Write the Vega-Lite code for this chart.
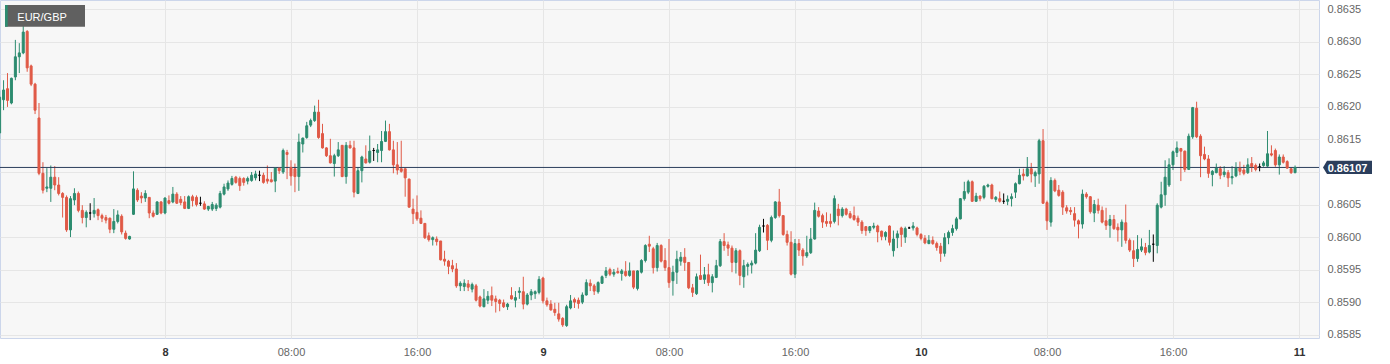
{
"$schema": "https://vega.github.io/schema/vega-lite/v6.json",
"width": 1319,
"height": 338,
"autosize": {"type": "none"},
"padding": {"left": 0, "top": 0, "right": 71, "bottom": 26},
"background": "#ffffff",
"config": {
  "view": {"fill": "#f7f7f7", "stroke": "#ccd6eb", "strokeWidth": 1},
  "font": "Liberation Sans",
  "axis": {"gridColor": "#e6e6e6", "gridWidth": 1, "domain": false, "ticks": false, "tickSize": 0, "labelFont": "Liberation Sans", "labelFontSize": 11, "title": null}
},
"data": {"values": [
{"t":-10.5,"o":0.8616,"h":0.86225,"l":0.8615,"c":0.86215},
{"t":-10.25,"o":0.86211,"h":0.86241,"l":0.86195,"c":0.86226},
{"t":-10,"o":0.86228,"h":0.86252,"l":0.862,"c":0.8621},
{"t":-9.75,"o":0.86206,"h":0.86245,"l":0.86204,"c":0.86244},
{"t":-9.5,"o":0.86246,"h":0.86303,"l":0.86241,"c":0.86277},
{"t":-9.25,"o":0.86277,"h":0.86298,"l":0.86252,"c":0.86283},
{"t":-9,"o":0.86283,"h":0.86328,"l":0.86281,"c":0.86315},
{"t":-8.75,"o":0.86316,"h":0.86318,"l":0.86254,"c":0.8626},
{"t":-8.5,"o":0.86263,"h":0.86265,"l":0.86232,"c":0.86235},
{"t":-8.25,"o":0.86235,"h":0.86237,"l":0.86189,"c":0.86195},
{"t":-8,"o":0.86183,"h":0.86206,"l":0.86095,"c":0.86098},
{"t":-7.75,"o":0.86098,"h":0.86115,"l":0.86067,"c":0.86072},
{"t":-7.5,"o":0.86075,"h":0.86106,"l":0.86069,"c":0.86077},
{"t":-7.25,"o":0.86075,"h":0.8611,"l":0.86054,"c":0.86092},
{"t":-7,"o":0.86092,"h":0.86109,"l":0.86072,"c":0.8608},
{"t":-6.75,"o":0.8608,"h":0.86092,"l":0.86064,"c":0.86067},
{"t":-6.5,"o":0.86067,"h":0.86069,"l":0.8603,"c":0.86061},
{"t":-6.25,"o":0.86061,"h":0.86064,"l":0.86008,"c":0.86011},
{"t":-6,"o":0.86011,"h":0.86063,"l":0.86,"c":0.86059},
{"t":-5.75,"o":0.86057,"h":0.86075,"l":0.86049,"c":0.86067},
{"t":-5.5,"o":0.86067,"h":0.8607,"l":0.86038,"c":0.86041},
{"t":-5.25,"o":0.86041,"h":0.86049,"l":0.86021,"c":0.8603},
{"t":-5,"o":0.8603,"h":0.86041,"l":0.86015,"c":0.86038},
{"t":-4.75,"o":0.86037,"h":0.86052,"l":0.86026,"c":0.86037},
{"t":-4.5,"o":0.86036,"h":0.8606,"l":0.8603,"c":0.86041},
{"t":-4.25,"o":0.86042,"h":0.86044,"l":0.86026,"c":0.86033},
{"t":-4,"o":0.86033,"h":0.86036,"l":0.86023,"c":0.86029},
{"t":-3.75,"o":0.8603,"h":0.86034,"l":0.86021,"c":0.86026},
{"t":-3.5,"o":0.86029,"h":0.8603,"l":0.86006,"c":0.86012},
{"t":-3.25,"o":0.86012,"h":0.86043,"l":0.86006,"c":0.86024},
{"t":-3,"o":0.86024,"h":0.86041,"l":0.86021,"c":0.86034},
{"t":-2.75,"o":0.86032,"h":0.86035,"l":0.86004,"c":0.86008},
{"t":-2.5,"o":0.86006,"h":0.8601,"l":0.85996,"c":0.85998},
{"t":-2.25,"o":0.85997,"h":0.86002,"l":0.85996,"c":0.86001},
{"t":-2,"o":0.86035,"h":0.86101,"l":0.86034,"c":0.86074},
{"t":-1.75,"o":0.86072,"h":0.86075,"l":0.86054,"c":0.86057},
{"t":-1.5,"o":0.86063,"h":0.86069,"l":0.86052,"c":0.8606},
{"t":-1.25,"o":0.8606,"h":0.86072,"l":0.86054,"c":0.86067},
{"t":-1,"o":0.86061,"h":0.86061,"l":0.86029,"c":0.86037},
{"t":-0.75,"o":0.86037,"h":0.86041,"l":0.8603,"c":0.86032},
{"t":-0.5,"o":0.86035,"h":0.86055,"l":0.86034,"c":0.86054},
{"t":-0.25,"o":0.86054,"h":0.86055,"l":0.86035,"c":0.86037},
{"t":0,"o":0.86037,"h":0.86061,"l":0.86035,"c":0.8606},
{"t":0.25,"o":0.86056,"h":0.86064,"l":0.8605,"c":0.86052},
{"t":0.5,"o":0.86054,"h":0.86077,"l":0.86052,"c":0.86066},
{"t":0.75,"o":0.86066,"h":0.86069,"l":0.86051,"c":0.86052},
{"t":1,"o":0.86058,"h":0.86063,"l":0.86049,"c":0.86053},
{"t":1.25,"o":0.86054,"h":0.86063,"l":0.86043,"c":0.86044},
{"t":1.5,"o":0.86044,"h":0.86064,"l":0.86043,"c":0.86062},
{"t":1.75,"o":0.86062,"h":0.86065,"l":0.86047,"c":0.86056},
{"t":2,"o":0.86061,"h":0.86064,"l":0.86047,"c":0.8605},
{"t":2.25,"o":0.86052,"h":0.86062,"l":0.86048,"c":0.86052},
{"t":2.5,"o":0.86051,"h":0.86055,"l":0.86042,"c":0.86043},
{"t":2.75,"o":0.86043,"h":0.86048,"l":0.8604,"c":0.86047},
{"t":3,"o":0.86043,"h":0.86054,"l":0.8604,"c":0.8605},
{"t":3.25,"o":0.86044,"h":0.86052,"l":0.8604,"c":0.86049},
{"t":3.5,"o":0.86046,"h":0.86071,"l":0.86044,"c":0.86067},
{"t":3.75,"o":0.86066,"h":0.86082,"l":0.86064,"c":0.86077},
{"t":4,"o":0.86074,"h":0.86087,"l":0.86071,"c":0.86083},
{"t":4.25,"o":0.86081,"h":0.86094,"l":0.86079,"c":0.8609},
{"t":4.5,"o":0.86092,"h":0.86094,"l":0.86082,"c":0.86084},
{"t":4.75,"o":0.8609,"h":0.86093,"l":0.86071,"c":0.86079},
{"t":5,"o":0.8609,"h":0.86092,"l":0.86079,"c":0.86084},
{"t":5.25,"o":0.86086,"h":0.86093,"l":0.86081,"c":0.8609},
{"t":5.5,"o":0.86087,"h":0.861,"l":0.86085,"c":0.86095},
{"t":5.75,"o":0.86091,"h":0.86102,"l":0.86087,"c":0.86097},
{"t":6,"o":0.86095,"h":0.86102,"l":0.86086,"c":0.86095},
{"t":6.25,"o":0.86095,"h":0.86099,"l":0.86082,"c":0.86084},
{"t":6.5,"o":0.86089,"h":0.8611,"l":0.86082,"c":0.86086},
{"t":6.75,"o":0.86088,"h":0.861,"l":0.86084,"c":0.86085},
{"t":7,"o":0.86086,"h":0.86107,"l":0.86069,"c":0.86106},
{"t":7.25,"o":0.86106,"h":0.86106,"l":0.86097,"c":0.86102},
{"t":7.5,"o":0.861,"h":0.86136,"l":0.86097,"c":0.86133},
{"t":7.75,"o":0.8613,"h":0.86134,"l":0.86089,"c":0.86127},
{"t":8,"o":0.86107,"h":0.86118,"l":0.86079,"c":0.86094},
{"t":8.25,"o":0.86105,"h":0.86113,"l":0.86069,"c":0.86093},
{"t":8.5,"o":0.86093,"h":0.86159,"l":0.86071,"c":0.86146},
{"t":8.75,"o":0.86143,"h":0.86153,"l":0.8613,"c":0.86152},
{"t":9,"o":0.86153,"h":0.86177,"l":0.86151,"c":0.86171},
{"t":9.25,"o":0.86172,"h":0.86182,"l":0.86169,"c":0.86179},
{"t":9.5,"o":0.86179,"h":0.86202,"l":0.86177,"c":0.86192},
{"t":9.75,"o":0.86192,"h":0.86211,"l":0.86151,"c":0.86153},
{"t":10,"o":0.86159,"h":0.86174,"l":0.86136,"c":0.86137},
{"t":10.25,"o":0.86137,"h":0.86138,"l":0.86123,"c":0.86125},
{"t":10.5,"o":0.86125,"h":0.86151,"l":0.86113,"c":0.86114},
{"t":10.75,"o":0.86113,"h":0.86128,"l":0.86093,"c":0.86125},
{"t":11,"o":0.86125,"h":0.86146,"l":0.86123,"c":0.86134},
{"t":11.25,"o":0.86141,"h":0.86141,"l":0.86092,"c":0.86093},
{"t":11.5,"o":0.86093,"h":0.86146,"l":0.86082,"c":0.86141},
{"t":11.75,"o":0.86141,"h":0.86148,"l":0.86136,"c":0.86137},
{"t":12,"o":0.86137,"h":0.86148,"l":0.86061,"c":0.86069},
{"t":12.25,"o":0.86067,"h":0.86107,"l":0.86066,"c":0.86102},
{"t":12.5,"o":0.86102,"h":0.86125,"l":0.86084,"c":0.86123},
{"t":12.75,"o":0.8612,"h":0.86141,"l":0.86113,"c":0.86114},
{"t":13,"o":0.86115,"h":0.86156,"l":0.86113,"c":0.86132},
{"t":13.25,"o":0.86133,"h":0.86137,"l":0.86117,"c":0.86133},
{"t":13.5,"o":0.8613,"h":0.86143,"l":0.86115,"c":0.86134},
{"t":13.75,"o":0.86133,"h":0.86163,"l":0.86115,"c":0.86147},
{"t":14,"o":0.86147,"h":0.86179,"l":0.86146,"c":0.86162},
{"t":14.25,"o":0.86162,"h":0.86174,"l":0.86133,"c":0.86134},
{"t":14.5,"o":0.86134,"h":0.86148,"l":0.86098,"c":0.86111},
{"t":14.75,"o":0.86111,"h":0.86146,"l":0.86096,"c":0.86103},
{"t":15,"o":0.86105,"h":0.86148,"l":0.86099,"c":0.86101},
{"t":15.25,"o":0.86105,"h":0.86105,"l":0.86062,"c":0.86091},
{"t":15.5,"o":0.86089,"h":0.8609,"l":0.86045,"c":0.86046},
{"t":15.75,"o":0.86043,"h":0.86059,"l":0.8602,"c":0.86036},
{"t":16,"o":0.86038,"h":0.86064,"l":0.86025,"c":0.86028},
{"t":16.25,"o":0.86029,"h":0.86041,"l":0.8602,"c":0.86021},
{"t":16.5,"o":0.86021,"h":0.86021,"l":0.85997,"c":0.85999},
{"t":16.75,"o":0.86002,"h":0.86007,"l":0.85993,"c":0.85996},
{"t":17,"o":0.85996,"h":0.86001,"l":0.85987,"c":0.85999},
{"t":17.25,"o":0.85997,"h":0.86001,"l":0.85987,"c":0.85993},
{"t":17.5,"o":0.85994,"h":0.85994,"l":0.85964,"c":0.85965},
{"t":17.75,"o":0.85966,"h":0.85979,"l":0.85956,"c":0.85963},
{"t":18,"o":0.85963,"h":0.85965,"l":0.85943,"c":0.85955},
{"t":18.25,"o":0.85956,"h":0.85965,"l":0.85946,"c":0.85951},
{"t":18.5,"o":0.85951,"h":0.8596,"l":0.85922,"c":0.85925},
{"t":18.75,"o":0.85925,"h":0.85932,"l":0.85917,"c":0.85929},
{"t":19,"o":0.85924,"h":0.85935,"l":0.85917,"c":0.85929},
{"t":19.25,"o":0.85928,"h":0.85934,"l":0.85917,"c":0.85923},
{"t":19.5,"o":0.8592,"h":0.8593,"l":0.85915,"c":0.85927},
{"t":19.75,"o":0.85925,"h":0.85928,"l":0.85901,"c":0.85903},
{"t":20,"o":0.85908,"h":0.8591,"l":0.85892,"c":0.85894},
{"t":20.25,"o":0.85893,"h":0.8592,"l":0.85892,"c":0.85905},
{"t":20.5,"o":0.85903,"h":0.85917,"l":0.85897,"c":0.85909},
{"t":20.75,"o":0.8591,"h":0.85924,"l":0.85894,"c":0.85903},
{"t":21,"o":0.85905,"h":0.8591,"l":0.85884,"c":0.85901},
{"t":21.25,"o":0.85903,"h":0.85905,"l":0.85886,"c":0.85898},
{"t":21.5,"o":0.85899,"h":0.85904,"l":0.85891,"c":0.85893},
{"t":21.75,"o":0.85893,"h":0.85899,"l":0.85888,"c":0.85897},
{"t":22,"o":0.8591,"h":0.85923,"l":0.85904,"c":0.85905},
{"t":22.25,"o":0.85903,"h":0.85917,"l":0.85892,"c":0.85907},
{"t":22.5,"o":0.85915,"h":0.85923,"l":0.85905,"c":0.85917},
{"t":22.75,"o":0.85916,"h":0.85939,"l":0.85889,"c":0.85897},
{"t":23,"o":0.85897,"h":0.85914,"l":0.85895,"c":0.85911},
{"t":23.25,"o":0.85911,"h":0.8592,"l":0.85903,"c":0.85916},
{"t":23.5,"o":0.85913,"h":0.85918,"l":0.85905,"c":0.85916},
{"t":23.75,"o":0.85915,"h":0.8594,"l":0.85912,"c":0.85935},
{"t":24,"o":0.85937,"h":0.85939,"l":0.85898,"c":0.85902},
{"t":24.25,"o":0.85902,"h":0.85907,"l":0.85893,"c":0.85896},
{"t":24.5,"o":0.85897,"h":0.85903,"l":0.85887,"c":0.85888},
{"t":24.75,"o":0.85889,"h":0.85899,"l":0.85879,"c":0.85884},
{"t":25,"o":0.85882,"h":0.85899,"l":0.8587,"c":0.85874},
{"t":25.25,"o":0.85875,"h":0.85877,"l":0.85862,"c":0.85865},
{"t":25.5,"o":0.85864,"h":0.85896,"l":0.85862,"c":0.85893},
{"t":25.75,"o":0.85891,"h":0.85911,"l":0.85889,"c":0.85902},
{"t":26,"o":0.85904,"h":0.85907,"l":0.85891,"c":0.859},
{"t":26.25,"o":0.85903,"h":0.85907,"l":0.8589,"c":0.85898},
{"t":26.5,"o":0.859,"h":0.85915,"l":0.85897,"c":0.85911},
{"t":26.75,"o":0.85911,"h":0.85935,"l":0.8591,"c":0.8593},
{"t":27,"o":0.85929,"h":0.85935,"l":0.85917,"c":0.85925},
{"t":27.25,"o":0.85925,"h":0.85928,"l":0.85911,"c":0.85917},
{"t":27.5,"o":0.85916,"h":0.85932,"l":0.85913,"c":0.8593},
{"t":27.75,"o":0.85929,"h":0.85941,"l":0.85928,"c":0.85939},
{"t":28,"o":0.85941,"h":0.85954,"l":0.85937,"c":0.85948},
{"t":28.25,"o":0.8595,"h":0.85953,"l":0.8594,"c":0.85943},
{"t":28.5,"o":0.85943,"h":0.85951,"l":0.85939,"c":0.85946},
{"t":28.75,"o":0.85947,"h":0.85953,"l":0.85944,"c":0.85945},
{"t":29,"o":0.85944,"h":0.85951,"l":0.85933,"c":0.85948},
{"t":29.25,"o":0.85947,"h":0.85963,"l":0.85939,"c":0.85941},
{"t":29.5,"o":0.85941,"h":0.85961,"l":0.85939,"c":0.85948},
{"t":29.75,"o":0.85948,"h":0.85948,"l":0.8592,"c":0.85923},
{"t":30,"o":0.85921,"h":0.85949,"l":0.85918,"c":0.85948},
{"t":30.25,"o":0.85946,"h":0.85966,"l":0.85944,"c":0.85964},
{"t":30.5,"o":0.85964,"h":0.85989,"l":0.85961,"c":0.85987},
{"t":30.75,"o":0.85989,"h":0.86002,"l":0.85977,"c":0.85986},
{"t":31,"o":0.85982,"h":0.85985,"l":0.85944,"c":0.85953},
{"t":31.25,"o":0.85953,"h":0.85991,"l":0.85947,"c":0.85987},
{"t":31.5,"o":0.85987,"h":0.85989,"l":0.85961,"c":0.85963},
{"t":31.75,"o":0.85964,"h":0.85983,"l":0.85948,"c":0.85953},
{"t":32,"o":0.85953,"h":0.85997,"l":0.85922,"c":0.8593},
{"t":32.25,"o":0.85933,"h":0.85956,"l":0.8591,"c":0.85946},
{"t":32.5,"o":0.85946,"h":0.85979,"l":0.85928,"c":0.85966},
{"t":32.75,"o":0.85963,"h":0.85977,"l":0.85956,"c":0.85969},
{"t":33,"o":0.85969,"h":0.85983,"l":0.85948,"c":0.85961},
{"t":33.25,"o":0.85961,"h":0.85961,"l":0.8592,"c":0.85922},
{"t":33.5,"o":0.85922,"h":0.85928,"l":0.85908,"c":0.85915},
{"t":33.75,"o":0.85913,"h":0.85944,"l":0.85911,"c":0.85939},
{"t":34,"o":0.85941,"h":0.85973,"l":0.85934,"c":0.85935},
{"t":34.25,"o":0.85935,"h":0.85954,"l":0.85928,"c":0.85942},
{"t":34.5,"o":0.85942,"h":0.85959,"l":0.85925,"c":0.8593},
{"t":34.75,"o":0.8593,"h":0.85943,"l":0.85915,"c":0.85939},
{"t":35,"o":0.85938,"h":0.85965,"l":0.85937,"c":0.85956},
{"t":35.25,"o":0.85956,"h":0.85997,"l":0.85954,"c":0.85993},
{"t":35.5,"o":0.85993,"h":0.86006,"l":0.85979,"c":0.85987},
{"t":35.75,"o":0.85988,"h":0.85993,"l":0.85971,"c":0.85983},
{"t":36,"o":0.85983,"h":0.85987,"l":0.85946,"c":0.85961},
{"t":36.25,"o":0.85961,"h":0.85983,"l":0.85944,"c":0.85979},
{"t":36.5,"o":0.85979,"h":0.85981,"l":0.85926,"c":0.85941},
{"t":36.75,"o":0.85939,"h":0.85965,"l":0.85922,"c":0.85956},
{"t":37,"o":0.85955,"h":0.85961,"l":0.85941,"c":0.85958},
{"t":37.25,"o":0.85957,"h":0.85964,"l":0.85944,"c":0.8596},
{"t":37.5,"o":0.8596,"h":0.86006,"l":0.85958,"c":0.8598},
{"t":37.75,"o":0.85979,"h":0.86019,"l":0.85977,"c":0.86015},
{"t":38,"o":0.86017,"h":0.86028,"l":0.86007,"c":0.86017},
{"t":38.25,"o":0.86018,"h":0.8602,"l":0.8598,"c":0.85995},
{"t":38.5,"o":0.85995,"h":0.86033,"l":0.85992,"c":0.8603},
{"t":38.75,"o":0.8603,"h":0.86055,"l":0.86028,"c":0.86054},
{"t":39,"o":0.86054,"h":0.86074,"l":0.8603,"c":0.86033},
{"t":39.25,"o":0.86033,"h":0.86033,"l":0.86002,"c":0.86004},
{"t":39.5,"o":0.86004,"h":0.8601,"l":0.85987,"c":0.85992},
{"t":39.75,"o":0.85992,"h":0.86009,"l":0.85941,"c":0.85943},
{"t":40,"o":0.85943,"h":0.85997,"l":0.85937,"c":0.8599},
{"t":40.25,"o":0.8599,"h":0.85997,"l":0.85971,"c":0.8598},
{"t":40.5,"o":0.8598,"h":0.85983,"l":0.85956,"c":0.85971},
{"t":40.75,"o":0.85971,"h":0.86002,"l":0.85968,"c":0.85976},
{"t":41,"o":0.85976,"h":0.86014,"l":0.85974,"c":0.85997},
{"t":41.25,"o":0.85997,"h":0.86053,"l":0.85996,"c":0.86041},
{"t":41.5,"o":0.8604,"h":0.86046,"l":0.8603,"c":0.86032},
{"t":41.75,"o":0.86033,"h":0.86036,"l":0.86014,"c":0.86023},
{"t":42,"o":0.86024,"h":0.86038,"l":0.86016,"c":0.86021},
{"t":42.25,"o":0.86024,"h":0.86036,"l":0.86015,"c":0.86021},
{"t":42.5,"o":0.86024,"h":0.86064,"l":0.86021,"c":0.86059},
{"t":42.75,"o":0.86043,"h":0.86051,"l":0.86018,"c":0.86033},
{"t":43,"o":0.86033,"h":0.86046,"l":0.8603,"c":0.86043},
{"t":43.25,"o":0.86043,"h":0.86045,"l":0.86033,"c":0.86035},
{"t":43.5,"o":0.86036,"h":0.8604,"l":0.86028,"c":0.8603},
{"t":43.75,"o":0.86033,"h":0.86047,"l":0.86025,"c":0.86027},
{"t":44,"o":0.86029,"h":0.86033,"l":0.86017,"c":0.86023},
{"t":44.25,"o":0.86023,"h":0.86026,"l":0.86005,"c":0.8601},
{"t":44.5,"o":0.86016,"h":0.86017,"l":0.86002,"c":0.8601},
{"t":44.75,"o":0.8601,"h":0.86017,"l":0.86006,"c":0.86016},
{"t":45,"o":0.86015,"h":0.86022,"l":0.86012,"c":0.86017},
{"t":45.25,"o":0.86017,"h":0.86019,"l":0.85992,"c":0.86008},
{"t":45.5,"o":0.86009,"h":0.8601,"l":0.85995,"c":0.86001},
{"t":45.75,"o":0.86001,"h":0.86009,"l":0.85995,"c":0.86007},
{"t":46,"o":0.86017,"h":0.86018,"l":0.85987,"c":0.85992},
{"t":46.25,"o":0.85979,"h":0.8601,"l":0.8597,"c":0.85997},
{"t":46.5,"o":0.85999,"h":0.8601,"l":0.85983,"c":0.86005},
{"t":46.75,"o":0.86014,"h":0.86016,"l":0.85985,"c":0.86004},
{"t":47,"o":0.86,"h":0.86016,"l":0.85991,"c":0.86013},
{"t":47.25,"o":0.86014,"h":0.86016,"l":0.86013,"c":0.86014},
{"t":47.5,"o":0.86014,"h":0.86023,"l":0.8601,"c":0.86017},
{"t":47.75,"o":0.86014,"h":0.86016,"l":0.86001,"c":0.86004},
{"t":48,"o":0.86004,"h":0.86006,"l":0.85995,"c":0.85998},
{"t":48.25,"o":0.85998,"h":0.86003,"l":0.85989,"c":0.85991},
{"t":48.5,"o":0.8599,"h":0.86003,"l":0.85989,"c":0.85995},
{"t":48.75,"o":0.85995,"h":0.86001,"l":0.85988,"c":0.8599},
{"t":49,"o":0.8599,"h":0.85993,"l":0.85979,"c":0.85984},
{"t":49.25,"o":0.85986,"h":0.85991,"l":0.85962,"c":0.85975},
{"t":49.5,"o":0.85975,"h":0.86006,"l":0.8597,"c":0.85999},
{"t":49.75,"o":0.85999,"h":0.8601,"l":0.85989,"c":0.86007},
{"t":50,"o":0.86007,"h":0.86019,"l":0.86002,"c":0.86013},
{"t":50.25,"o":0.86013,"h":0.86031,"l":0.8601,"c":0.86028},
{"t":50.5,"o":0.86028,"h":0.8606,"l":0.86027,"c":0.86059},
{"t":50.75,"o":0.86059,"h":0.86085,"l":0.86056,"c":0.8607},
{"t":51,"o":0.86069,"h":0.86088,"l":0.86066,"c":0.86085},
{"t":51.25,"o":0.86085,"h":0.86087,"l":0.86054,"c":0.86055},
{"t":51.5,"o":0.86055,"h":0.86068,"l":0.86054,"c":0.86063},
{"t":51.75,"o":0.86063,"h":0.86064,"l":0.86055,"c":0.86059},
{"t":52,"o":0.86061,"h":0.8608,"l":0.86058,"c":0.86078},
{"t":52.25,"o":0.86078,"h":0.86082,"l":0.86076,"c":0.8608},
{"t":52.5,"o":0.8608,"h":0.86082,"l":0.86058,"c":0.86059},
{"t":52.75,"o":0.86058,"h":0.86063,"l":0.86054,"c":0.86061},
{"t":53,"o":0.86059,"h":0.8607,"l":0.86053,"c":0.86055},
{"t":53.25,"o":0.86055,"h":0.86067,"l":0.86051,"c":0.86055},
{"t":53.5,"o":0.86055,"h":0.86064,"l":0.86049,"c":0.86058},
{"t":53.75,"o":0.86059,"h":0.86067,"l":0.86047,"c":0.86062},
{"t":54,"o":0.86069,"h":0.86084,"l":0.8606,"c":0.86082},
{"t":54.25,"o":0.86082,"h":0.86105,"l":0.86081,"c":0.86095},
{"t":54.5,"o":0.86097,"h":0.86105,"l":0.86087,"c":0.86094},
{"t":54.75,"o":0.86094,"h":0.86123,"l":0.86093,"c":0.86105},
{"t":55,"o":0.86105,"h":0.86114,"l":0.86084,"c":0.86097},
{"t":55.25,"o":0.86094,"h":0.86102,"l":0.86077,"c":0.86099},
{"t":55.5,"o":0.86097,"h":0.86151,"l":0.86082,"c":0.86148},
{"t":55.75,"o":0.86148,"h":0.86166,"l":0.86051,"c":0.86052},
{"t":56,"o":0.86053,"h":0.86056,"l":0.86011,"c":0.86025},
{"t":56.25,"o":0.86023,"h":0.86092,"l":0.86016,"c":0.86087},
{"t":56.5,"o":0.86087,"h":0.8609,"l":0.86069,"c":0.86071},
{"t":56.75,"o":0.86072,"h":0.8608,"l":0.86062,"c":0.86064},
{"t":57,"o":0.86069,"h":0.86072,"l":0.86034,"c":0.86046},
{"t":57.25,"o":0.86045,"h":0.86049,"l":0.86036,"c":0.8604},
{"t":57.5,"o":0.86041,"h":0.86046,"l":0.86034,"c":0.86039},
{"t":57.75,"o":0.86036,"h":0.86046,"l":0.86016,"c":0.86026},
{"t":58,"o":0.86025,"h":0.86027,"l":0.85998,"c":0.8602},
{"t":58.25,"o":0.8602,"h":0.86073,"l":0.86013,"c":0.86066},
{"t":58.5,"o":0.86066,"h":0.86069,"l":0.86059,"c":0.86062},
{"t":58.75,"o":0.86062,"h":0.86063,"l":0.86036,"c":0.86039},
{"t":59,"o":0.86037,"h":0.86057,"l":0.86023,"c":0.8605},
{"t":59.25,"o":0.86049,"h":0.86059,"l":0.86036,"c":0.86041},
{"t":59.5,"o":0.86041,"h":0.86047,"l":0.86021,"c":0.86023},
{"t":59.75,"o":0.86025,"h":0.86045,"l":0.86011,"c":0.86018},
{"t":60,"o":0.86018,"h":0.86034,"l":0.85999,"c":0.86027},
{"t":60.25,"o":0.86027,"h":0.86034,"l":0.86011,"c":0.86013},
{"t":60.5,"o":0.86015,"h":0.86021,"l":0.85993,"c":0.86011},
{"t":60.75,"o":0.86011,"h":0.86027,"l":0.85985,"c":0.86023},
{"t":61,"o":0.86022,"h":0.8605,"l":0.8599,"c":0.85995},
{"t":61.25,"o":0.85995,"h":0.85998,"l":0.85977,"c":0.8598},
{"t":61.5,"o":0.85979,"h":0.85995,"l":0.85954,"c":0.85967},
{"t":61.75,"o":0.85967,"h":0.86003,"l":0.85962,"c":0.85981},
{"t":62,"o":0.8598,"h":0.85998,"l":0.85977,"c":0.85985},
{"t":62.25,"o":0.85984,"h":0.85991,"l":0.85972,"c":0.85976},
{"t":62.5,"o":0.85977,"h":0.86011,"l":0.85975,"c":0.85987},
{"t":62.75,"o":0.85989,"h":0.86004,"l":0.85962,"c":0.85989},
{"t":63,"o":0.85987,"h":0.86052,"l":0.85975,"c":0.86049},
{"t":63.25,"o":0.86046,"h":0.86085,"l":0.86044,"c":0.86065},
{"t":63.5,"o":0.86065,"h":0.86118,"l":0.86048,"c":0.86092},
{"t":63.75,"o":0.8608,"h":0.86121,"l":0.86077,"c":0.86111},
{"t":64,"o":0.86111,"h":0.86133,"l":0.86103,"c":0.86131},
{"t":64.25,"o":0.8613,"h":0.86147,"l":0.86123,"c":0.86137},
{"t":64.5,"o":0.86136,"h":0.86137,"l":0.86086,"c":0.86132},
{"t":64.75,"o":0.86132,"h":0.86133,"l":0.861,"c":0.86104},
{"t":65,"o":0.86104,"h":0.86159,"l":0.86103,"c":0.86155},
{"t":65.25,"o":0.86154,"h":0.862,"l":0.86151,"c":0.86199},
{"t":65.5,"o":0.86198,"h":0.86208,"l":0.86152,"c":0.86154},
{"t":65.75,"o":0.86155,"h":0.86158,"l":0.86092,"c":0.86125},
{"t":66,"o":0.86127,"h":0.86139,"l":0.86118,"c":0.8612},
{"t":66.25,"o":0.8612,"h":0.86126,"l":0.86091,"c":0.86098},
{"t":66.5,"o":0.86096,"h":0.86103,"l":0.86078,"c":0.86101},
{"t":66.75,"o":0.86099,"h":0.86113,"l":0.86098,"c":0.86106},
{"t":67,"o":0.86105,"h":0.86109,"l":0.86089,"c":0.86095},
{"t":67.25,"o":0.86096,"h":0.86109,"l":0.86092,"c":0.861},
{"t":67.5,"o":0.86099,"h":0.86103,"l":0.86077,"c":0.86091},
{"t":67.75,"o":0.86091,"h":0.86109,"l":0.86081,"c":0.86093},
{"t":68,"o":0.86094,"h":0.86115,"l":0.86092,"c":0.86106},
{"t":68.25,"o":0.86106,"h":0.86116,"l":0.86095,"c":0.86101},
{"t":68.5,"o":0.86103,"h":0.86111,"l":0.86095,"c":0.86098},
{"t":68.75,"o":0.86099,"h":0.86121,"l":0.86097,"c":0.86111},
{"t":69,"o":0.86113,"h":0.86123,"l":0.861,"c":0.86108},
{"t":69.25,"o":0.8611,"h":0.86113,"l":0.86101,"c":0.86104},
{"t":69.5,"o":0.86108,"h":0.86113,"l":0.86101,"c":0.86108},
{"t":69.75,"o":0.8611,"h":0.86117,"l":0.86108,"c":0.86114},
{"t":70,"o":0.86109,"h":0.86163,"l":0.86108,"c":0.86128},
{"t":70.25,"o":0.86128,"h":0.86141,"l":0.86124,"c":0.86126},
{"t":70.5,"o":0.86133,"h":0.86136,"l":0.86108,"c":0.86111},
{"t":70.75,"o":0.86111,"h":0.86127,"l":0.86096,"c":0.86123},
{"t":71,"o":0.86123,"h":0.86127,"l":0.86113,"c":0.86115},
{"t":71.25,"o":0.86116,"h":0.86118,"l":0.86105,"c":0.86106},
{"t":71.5,"o":0.86105,"h":0.86106,"l":0.86097,"c":0.86099},
{"t":71.75,"o":0.86099,"h":0.8611,"l":0.86098,"c":0.86107}
]},
"layer": [
  {
    "mark": {"type": "rule", "strokeWidth": 1, "clip": true},
    "encoding": {
      "x": {"field": "t", "type": "quantitative",
        "scale": {"domain": [-10.476, 73.27], "nice": false, "zero": false, "padding": 0},
        "axis": {"values": [0, 8, 16, 24, 32, 40, 48, 56, 64, 72], "tickCount": 40,
          "labelExpr": "datum.value % 24 === 0 ? toString(8 + datum.value / 24) : (datum.value % 24 === 8 ? '08:00' : '16:00')",
          "labelFontWeight": {"condition": {"test": "datum.value % 24 === 0", "value": "bold"}, "value": "normal"},
          "labelColor": {"condition": {"test": "datum.value % 24 === 0", "value": "#333333"}, "value": "#666666"},
          "labelPadding": 8, "grid": true, "labelFlush": false, "labelOverlap": false}},
      "y": {"field": "l", "type": "quantitative",
        "scale": {"domain": [0.858449, 0.863643], "nice": false, "zero": false, "padding": 0},
        "axis": {"orient": "right", "values": [0.8585, 0.859, 0.8595, 0.86, 0.8605, 0.861, 0.8615, 0.862, 0.8625, 0.863, 0.8635],
          "tickCount": 20, "format": ".4f",
          "labelExpr": "abs(datum.value - 0.861) < 0.00001 ? '' : datum.label",
          "labelPadding": 8, "labelColor": "#666666", "grid": true, "labelOverlap": false, "labelFlush": false}},
      "y2": {"field": "h"},
      "color": {"condition": [{"test": "datum.c > datum.o", "value": "#2d8c70"}, {"test": "datum.c < datum.o", "value": "#e05a47"}], "value": "#000000"}
    }
  },
  {
    "data": {"values": [{"price": 0.86107}]},
    "mark": {"type": "rule", "color": "#2b3e5c", "strokeWidth": 1},
    "encoding": {"y": {"field": "price", "type": "quantitative"}}
  },
  {
    "mark": {"type": "bar", "size": 2, "strokeWidth": 1, "clip": true},
    "encoding": {
      "x": {"field": "t", "type": "quantitative"},
      "y": {"field": "o", "type": "quantitative"},
      "y2": {"field": "c"},
      "color": {"condition": [{"test": "datum.c > datum.o", "value": "#2d8c70"}, {"test": "datum.c < datum.o", "value": "#e05a47"}], "value": "#000000"},
      "stroke": {"condition": [{"test": "datum.c > datum.o", "value": "#2d8c70"}, {"test": "datum.c < datum.o", "value": "#e05a47"}], "value": "#000000"}
    }
  },
  {
    "data": {"values": [{"symbol": "EUR/GBP"}]},
    "mark": {"type": "rect", "color": "#606060"},
    "encoding": {
      "x": {"datum": -10.159, "type": "quantitative"},
      "x2": {"datum": -5.079},
      "y": {"datum": 0.863566, "type": "quantitative"},
      "y2": {"datum": 0.863233}
    }
  },
  {
    "data": {"values": [{"symbol": "EUR/GBP"}]},
    "mark": {"type": "rect", "color": "#2d8c70"},
    "encoding": {
      "x": {"datum": -10.159, "type": "quantitative"},
      "x2": {"datum": -9.987},
      "y": {"datum": 0.863566, "type": "quantitative"},
      "y2": {"datum": 0.863233}
    }
  },
  {
    "data": {"values": [{"symbol": "EUR/GBP"}]},
    "mark": {"type": "text", "align": "left", "baseline": "alphabetic", "fontSize": 11, "font": "Liberation Sans", "color": "#ffffff"},
    "encoding": {
      "x": {"datum": -9.378, "type": "quantitative"},
      "y": {"datum": 0.863325, "type": "quantitative"},
      "text": {"field": "symbol"}
    }
  },
  {
    "data": {"values": [{"price": 0.86107}]},
    "mark": {"type": "point", "shape": "M -1 0 L -0.837 -0.271 L 1 -0.271 L 1 0.271 L -0.837 0.271 Z", "size": 2401, "filled": true, "opacity": 1, "color": "#2b3e5c", "strokeWidth": 0},
    "encoding": {
      "x": {"datum": 75.08, "type": "quantitative"},
      "y": {"field": "price", "type": "quantitative"}
    }
  },
  {
    "data": {"values": [{"price": 0.86107}]},
    "mark": {"type": "text", "align": "center", "baseline": "alphabetic", "fontSize": 11, "fontWeight": "bold", "font": "Liberation Sans", "color": "#ffffff", "dy": 5},
    "encoding": {
      "x": {"datum": 75.08, "type": "quantitative"},
      "y": {"field": "price", "type": "quantitative"},
      "text": {"field": "price", "type": "quantitative", "format": ".5f"}
    }
  }
]
}
